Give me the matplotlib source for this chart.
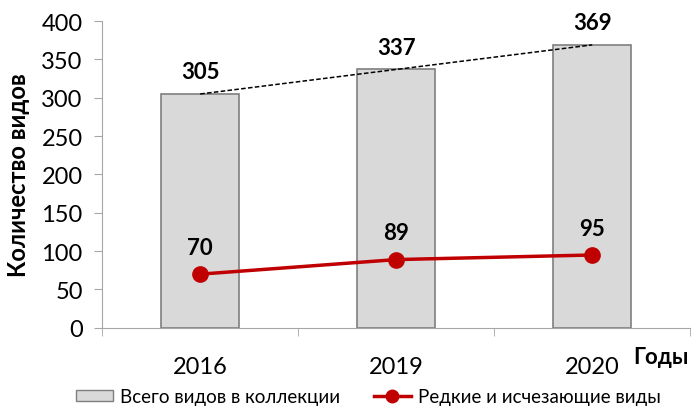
import matplotlib.pyplot as plt
from matplotlib.lines import Line2D
from matplotlib.patches import Patch

plt.rcParams['font.family'] = ['Lato', 'DejaVu Sans']

years = ["2016", "2019", "2020"]
total_species = [305, 337, 369]
rare_species = [70, 89, 95]

fig = plt.figure(figsize=(7, 4.1), dpi=100)
ax = fig.add_axes([0.146, 0.198, 0.84, 0.748])

x = range(len(years))
ax.bar(x, total_species, width=0.4, color="#d9d9d9", edgecolor="#7f7f7f", linewidth=1.2, zorder=2)
ax.plot(x, total_species, linestyle=(0, (3, 1.5)), color="black", linewidth=1.1, zorder=3)
ax.plot(x, rare_species, color="#c00000", linewidth=2.5, marker="o", markersize=11, zorder=4)

for i, v in enumerate(total_species):
    ax.text(i, v + 15, str(v), ha="center", va="bottom", fontsize=16, fontweight="bold")
for i, v in enumerate(rare_species):
    ax.text(i, v + 21, str(v), ha="center", va="bottom", fontsize=16, fontweight="bold")

ax.set_xlim(-0.5, 2.5)
ax.set_ylim(0, 400)
ax.set_yticks(range(0, 401, 50))
ax.set_xticks(x)
ax.set_xticklabels(years)
ax.set_xticks([-0.5, 0.5, 1.5, 2.5], minor=True)
ax.tick_params(axis="x", which="major", length=0, labelsize=17, pad=20)
ax.tick_params(axis="x", which="minor", length=6, color="#a6a6a6")
ax.tick_params(axis="y", length=6, color="#a6a6a6", labelsize=17, pad=8)
for side in ["top", "right"]:
    ax.spines[side].set_visible(False)
for side in ["left", "bottom"]:
    ax.spines[side].set_color("#a6a6a6")
ax.set_ylabel("Количество видов", fontsize=17, fontweight="bold", labelpad=8)
fig.text(0.904, 0.129, "Годы", fontsize=16, fontweight="bold", ha="left", va="center")

handles = [
    Patch(facecolor="#d9d9d9", edgecolor="#7f7f7f", label="Всего видов в коллекции"),
    Line2D([0], [0], color="#c00000", linewidth=2.5, marker="o", markersize=9, label="Редкие и исчезающие виды"),
]
fig.legend(handles=handles, loc="center", bbox_to_anchor=(0.526, 0.03), ncol=2, frameon=False,
           fontsize=13.5, columnspacing=1.8, handlelength=2.0, handleheight=0.45, handletextpad=0.35)

fig.savefig("out.png")
